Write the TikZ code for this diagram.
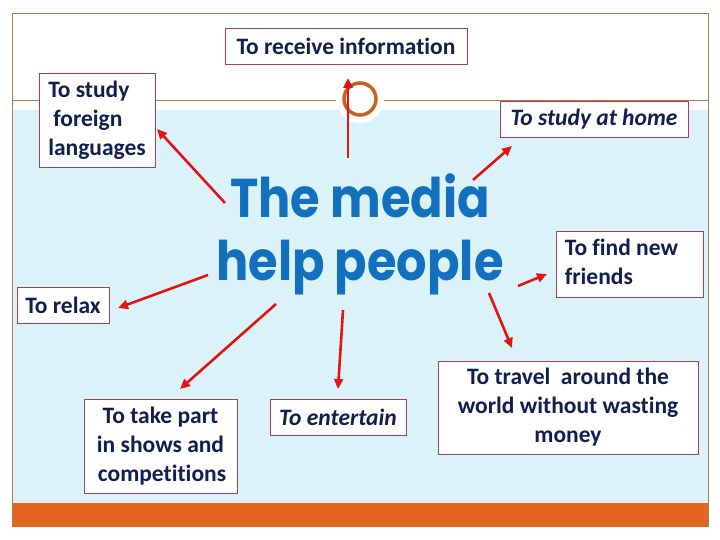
\documentclass[tikz,border=0pt]{standalone}
\usepackage{fontspec}
\setmainfont{Carlito}[Ligatures={NoCommon}]
\newfontfamily\bigfont{Poppins}
\usetikzlibrary{arrows.meta}
\definecolor{navy}{HTML}{0F1F4F}
\definecolor{boxred}{HTML}{A0405A}
\definecolor{framec}{HTML}{B5794A}
\definecolor{lblue}{HTML}{DBF2F8}
\definecolor{orangebar}{HTML}{E3651F}
\definecolor{ringc}{HTML}{C8621E}
\definecolor{arrowred}{HTML}{E31414}
\definecolor{bigblue}{HTML}{1370BF}
\begin{document}
\begin{tikzpicture}[x=1pt,y=-1pt,
  box/.style={draw=boxred, line width=0.9pt, fill=white, text=navy,
    font=\fontsize{23.5}{29}\selectfont\bfseries, inner sep=0pt},
  arr/.style={draw=arrowred, line width=2.6pt, -{Triangle[length=10pt,width=9pt]}}]
\useasboundingbox (0,0) rectangle (720,540);
\fill[white] (0,0) rectangle (720,540);
\fill[lblue] (12,110) rectangle (708,503);
\fill[orangebar] (12,503) rectangle (708,527);
\draw[framec, line width=0.8pt] (12,527) -- (12,13) -- (708,13) -- (708,527);
\draw[framec, line width=0.8pt] (12,100) -- (708,100);
\fill[white] (360,99) circle (24);
\draw[ringc, line width=3.5pt] (360,99) circle (16);

\node[box, minimum width=242pt, minimum height=36pt] (receive) at (346,46) {To receive information};
\node[box, minimum width=116pt, minimum height=94pt, align=left] (foreign) at (97,120) {To study\\\hspace*{5pt}foreign\\languages};
\node[box, minimum width=188pt, minimum height=36pt, font=\fontsize{23.5}{29}\selectfont\bfseries\itshape] (home) at (594,119) {To study at home};
\node[box, minimum width=147pt, minimum height=66pt] (friends) at (629.5,264) {\raisebox{-3pt}{\begin{tabular}{@{}l@{}}To find new\\friends\end{tabular}}\kern16pt};
\node[box, minimum width=92pt, minimum height=36pt] (relax) at (63,305) {To relax};
\node[box, minimum width=153pt, minimum height=94pt, align=center] (takepart) at (160.5,446) {To take part\\in shows and\\\hspace*{3pt}competitions};
\node[box, minimum width=136pt, minimum height=36pt, font=\fontsize{23.5}{29}\selectfont\bfseries\itshape] (entertain) at (338,417) {To entertain};
\node[box, minimum width=260pt, minimum height=93pt, align=center] (travel) at (568,407.5) {To travel \ around the\\world without wasting\\money};

\node[text=bigblue, font=\bigfont\bfseries\fontsize{52}{60}\selectfont, align=center, inner sep=0pt,
  xscale=0.92, yscale=1.05, transform shape] (media) at (360,234) {The media\\help people};

\coordinate (sR) at (348,158); \coordinate (tR) at (348,78);
\coordinate (sF) at (225,203); \coordinate (tF) at (157,129);
\coordinate (sX) at (208,275); \coordinate (tX) at (118,308);
\coordinate (sT) at (276,304); \coordinate (tT) at (180,389);
\coordinate (sE) at (343,310); \coordinate (tE) at (338,389);
\coordinate (sV) at (489,293); \coordinate (tV) at (512,348);
\coordinate (sN) at (518,286); \coordinate (tN) at (547,274);
\coordinate (sH) at (473,180); \coordinate (tH) at (512,146);
\draw[arr] (sR) -- (tR);
\draw[arr] (sF) -- (tF);
\draw[arr] (sX) -- (tX);
\draw[arr] (sT) -- (tT);
\draw[arr] (sE) -- (tE);
\draw[arr] (sV) -- (tV);
\draw[arr] (sN) -- (tN);
\draw[arr] (sH) -- (tH);
\end{tikzpicture}
\end{document}
